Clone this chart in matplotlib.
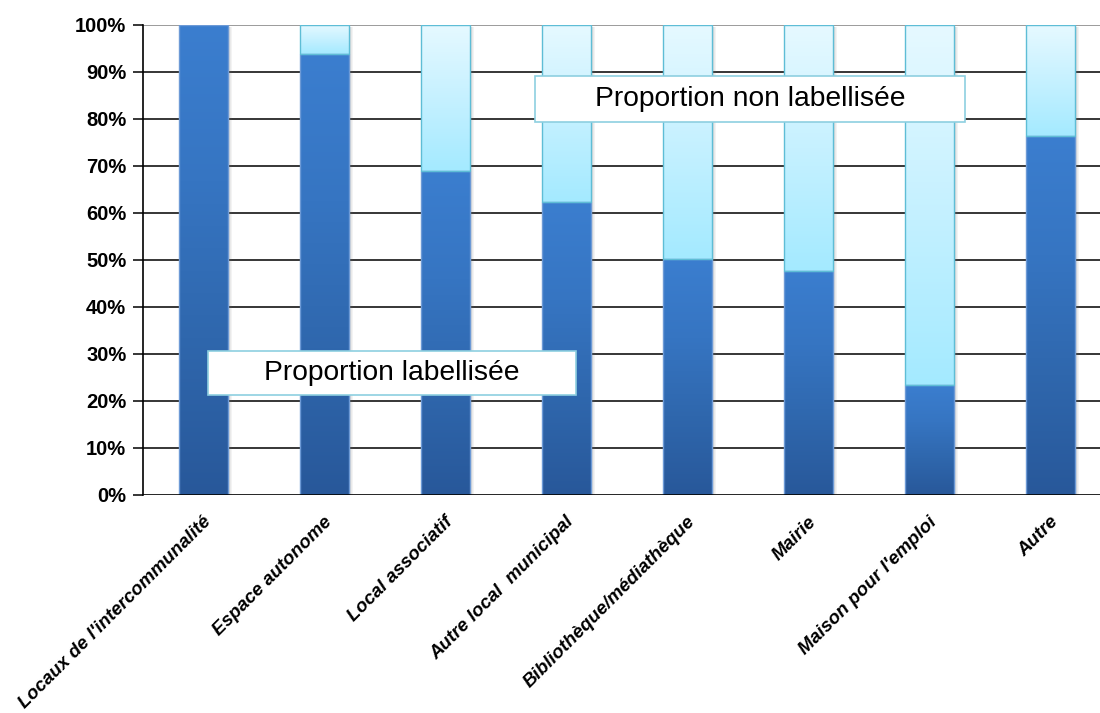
import numpy as np
import matplotlib
matplotlib.use("Agg")
import matplotlib.pyplot as plt
from matplotlib.colors import LinearSegmentedColormap
from matplotlib.patches import Rectangle
from matplotlib.transforms import ScaledTranslation

plt.rcParams['font.family'] = ['Liberation Sans', 'DejaVu Sans']

categories = [
    "Locaux de l'intercommunalité",
    "Espace autonome",
    "Local associatif",
    "Autre local  municipal",
    "Bibliothèque/médiathèque",
    "Mairie",
    "Maison pour l'emploi",
    "Autre",
]
labellisee = [100.0, 93.8, 68.9, 62.3, 50.2, 47.7, 23.4, 76.4]
non_labellisee = [100 - v for v in labellisee]
ytick_labels = ["0%", "10%", "20%", "30%", "40%", "50%", "60%", "70%", "80%", "90%", "100%"]

blue_cmap = LinearSegmentedColormap.from_list("blue", ["#28589a", "#2f67ad", "#3675c2", "#3b7ecf"])
light_cmap = LinearSegmentedColormap.from_list("light", ["#a4eaff", "#c6f1ff", "#e6f9ff"])

fig = plt.figure(figsize=(11, 7.13), dpi=100)
ax = fig.add_axes([143 / 1100, 1 - 495 / 713, 968 / 1100, 470 / 713])
ax.set_xlim(-0.5, 7.5)
ax.set_ylim(0, 100)

width = 0.4
grad = np.linspace(0, 1, 256).reshape(-1, 1)


def gradient_bar(x, bottom, height, cmap, edge):
    if height <= 0:
        return
    x0, x1 = x - width / 2, x + width / 2
    # soft shadow on the right side
    for k, a in enumerate([0.35, 0.25, 0.15, 0.08]):
        ax.add_patch(Rectangle((x1 + k * 0.009, bottom - 0.4), 0.009, height,
                               facecolor="#707070", edgecolor="none", alpha=a, zorder=2))
    ax.imshow(grad, cmap=cmap, origin="lower", aspect="auto",
              extent=(x0, x1, bottom, bottom + height), zorder=3, interpolation="bilinear")
    ax.add_patch(Rectangle((x0, bottom), width, height, facecolor="none",
                           edgecolor=edge, linewidth=1.0, zorder=4))


for i, (lab, non) in enumerate(zip(labellisee, non_labellisee)):
    gradient_bar(i, 0, lab, blue_cmap, "#6d9ad6")
    gradient_bar(i, lab, non, light_cmap, "#5ebdd6")

ax.set_xlim(-0.5, 7.5)
ax.set_ylim(0, 100)

for y in range(10, 100, 10):
    ax.axhline(y, color="black", linewidth=1.1, zorder=1)
ax.axhline(100, color="#8a8a8a", linewidth=1.2, zorder=1)
ax.axhline(0, color="black", linewidth=1.2, zorder=5)

for s in ["top", "right", "bottom"]:
    ax.spines[s].set_visible(False)
ax.spines["left"].set_color("black")
ax.spines["left"].set_linewidth(1.2)

ax.set_yticks(range(0, 101, 10))
ax.set_yticklabels(ytick_labels, fontsize=14.5, fontweight="bold")
ax.tick_params(axis="y", length=7, width=1.1, pad=5)

ax.set_xticks(range(len(categories)))
ax.set_xticklabels(categories, rotation=45, ha="right", va="top", rotation_mode="anchor",
                   fontsize=13.5, fontweight="bold", fontstyle="italic")
ax.tick_params(axis="x", length=0, pad=3)
shift = ScaledTranslation(-0.01, -0.14, fig.dpi_scale_trans)
for lbl in ax.get_xticklabels():
    lbl.set_transform(lbl.get_transform() + shift)

# annotation boxes
for (x0, y0, x1, y1, txt) in [(208, 351, 576, 395, "Proportion labellisée"),
                              (535, 76, 965, 122, "Proportion non labellisée")]:
    fig.patches.append(Rectangle((x0 / 1100, 1 - y1 / 713), (x1 - x0) / 1100, (y1 - y0) / 713,
                                 transform=fig.transFigure, facecolor="white",
                                 edgecolor="#8ecfe0", linewidth=1.2, zorder=10))
    fig.text((x0 + x1) / 2 / 1100, 1 - (y0 + y1) / 2 / 713, txt, ha="center", va="center",
             fontsize=20.3, color="black", zorder=11)

fig.savefig("out.png", dpi=100, facecolor="white")
